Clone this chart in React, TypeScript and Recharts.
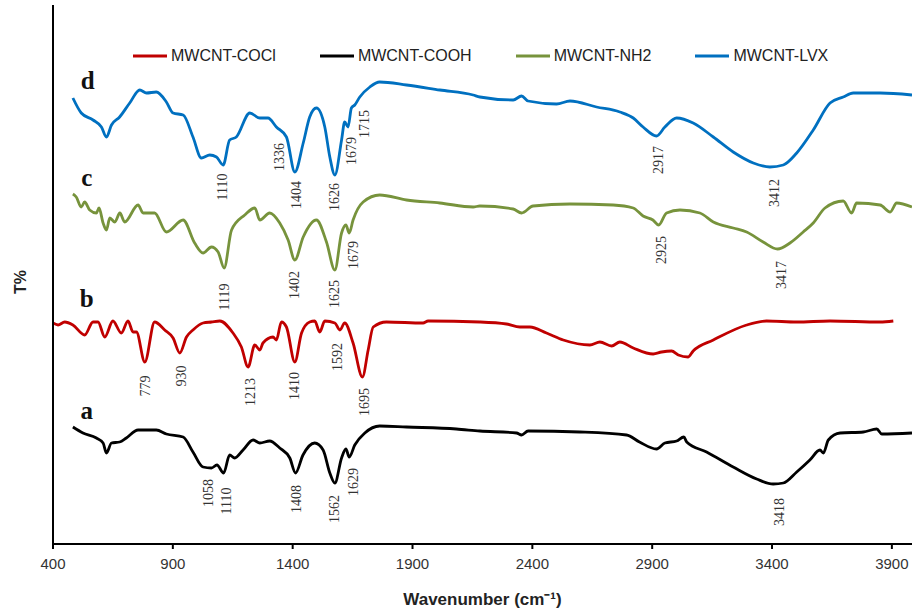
import { ComposedChart, Line, Scatter, XAxis, YAxis, Legend } from 'recharts';

// wavenumber (cm-1) / relative transmittance
const cooh: [number, number][] = [
  [483, 117], [525, 111], [581, 106], [609, 101], [623, 91], [644, 101], [678, 102], [706, 106],
  [755, 114], [831, 114], [873, 110], [943, 107], [984, 92], [1026, 77], [1061, 76], [1084, 79],
  [1112, 71], [1137, 89], [1158, 86], [1193, 94], [1235, 104], [1263, 101], [1304, 103], [1346, 96],
  [1388, 86], [1412, 71], [1443, 89], [1492, 101], [1527, 94], [1555, 71], [1576, 61], [1604, 86],
  [1622, 95], [1636, 87], [1659, 99], [1701, 111], [1763, 118], [1875, 117], [2083, 115], [2181, 113],
  [2334, 111], [2355, 109], [2382, 113], [2598, 112], [2793, 109], [2847, 102], [2918, 95], [2953, 101],
  [3002, 103], [3032, 107], [3044, 102], [3127, 92], [3238, 77], [3336, 65], [3405, 60], [3447, 61],
  [3503, 72], [3558, 84], [3600, 94], [3614, 91], [3635, 104], [3684, 111], [3781, 112], [3837, 115],
  [3858, 110], [3984, 111],
];

const cocl: [number, number][] = [
  [400, 221], [421, 219], [449, 222], [483, 219], [532, 209], [567, 222], [588, 222], [616, 207],
  [650, 223], [685, 211], [713, 223], [734, 212], [748, 212], [783, 182], [824, 222], [866, 214],
  [901, 206], [929, 191], [957, 207], [984, 214], [1026, 221], [1061, 222], [1096, 223], [1151, 211],
  [1186, 197], [1214, 177], [1242, 199], [1263, 194], [1276, 201], [1318, 207], [1332, 204], [1353, 222],
  [1374, 217], [1409, 182], [1437, 211], [1471, 222], [1492, 223], [1513, 212], [1534, 223], [1576, 221],
  [1597, 214], [1617, 221], [1652, 201], [1691, 167], [1715, 194], [1736, 217], [1791, 222], [1944, 221],
  [1965, 223], [2181, 222], [2292, 220], [2348, 217], [2390, 217], [2459, 211], [2529, 204], [2640, 199],
  [2682, 202], [2731, 198], [2765, 202], [2821, 196], [2904, 190], [2939, 192], [2981, 193], [3009, 189],
  [3050, 187], [3071, 193], [3155, 204], [3294, 219], [3377, 223], [3503, 222], [3642, 223], [3851, 222],
  [3906, 223],
];

const nh2: [number, number][] = [
  [483, 350], [497, 347], [518, 337], [532, 342], [553, 334], [581, 331], [592, 336], [609, 321],
  [623, 314], [637, 326], [658, 322], [679, 331], [699, 322], [755, 339], [776, 331], [824, 331],
  [873, 312], [943, 324], [991, 301], [1026, 291], [1061, 297], [1089, 292], [1114, 276], [1145, 314],
  [1200, 329], [1242, 336], [1263, 324], [1304, 331], [1346, 321], [1381, 304], [1409, 284], [1444, 307],
  [1499, 324], [1541, 302], [1576, 274], [1604, 311], [1622, 319], [1636, 311], [1652, 324], [1694, 342],
  [1763, 349], [1875, 344], [2014, 341], [2153, 337], [2181, 338], [2320, 335], [2355, 331], [2403, 338],
  [2557, 340], [2737, 339], [2821, 336], [2862, 328], [2903, 324], [2927, 319], [2960, 331], [3016, 334],
  [3099, 331], [3155, 322], [3238, 316], [3294, 312], [3363, 302], [3423, 295], [3475, 301], [3530, 312],
  [3572, 321], [3621, 336], [3697, 343], [3732, 331], [3753, 341], [3851, 339], [3893, 332], [3920, 341],
  [3984, 337],
];

const lvx: [number, number][] = [
  [483, 446], [518, 431], [567, 424], [602, 417], [623, 407], [644, 419], [678, 427], [720, 441],
  [762, 454], [790, 451], [831, 452], [873, 442], [901, 431], [943, 429], [984, 407], [1019, 386],
  [1054, 389], [1082, 387], [1110, 379], [1137, 404], [1165, 407], [1221, 431], [1263, 426], [1297, 426],
  [1332, 417], [1374, 407], [1409, 372], [1444, 401], [1471, 427], [1499, 436], [1534, 417], [1555, 387],
  [1576, 369], [1604, 404], [1617, 422], [1631, 417], [1645, 436], [1659, 439], [1680, 447], [1722, 457],
  [1763, 462], [1875, 459], [2014, 454], [2153, 449], [2181, 447], [2320, 444], [2355, 448], [2382, 443],
  [2501, 440], [2557, 443], [2668, 437], [2765, 432], [2821, 426], [2862, 417], [2918, 408], [2953, 417],
  [3002, 426], [3071, 421], [3155, 407], [3238, 392], [3322, 381], [3391, 377], [3447, 379], [3503, 391],
  [3572, 414], [3642, 441], [3697, 447], [3739, 451], [3851, 451], [3984, 449],
];

// peak annotations: [wavenumber, T at label centre, text]
const peakLabels: [number, number, string][] = [
  [1108, 357, '1110'], [1346, 387, '1336'], [1416, 349, '1404'], [1576, 347, '1626'],
  [1645, 393, '1679'], [1701, 420, '1715'], [2925, 384, '2917'], [3412, 351, '3412'],
  [1117, 247, '1119'], [1409, 259, '1402'], [1576, 250, '1625'], [1652, 289, '1679'],
  [2939, 294, '2925'], [3440, 269, '3417'],
  [787, 158, '779'], [936, 168, '930'], [1224, 152, '1213'], [1409, 158, '1410'],
  [1589, 187, '1592'], [1701, 142, '1695'],
  [1047, 51, '1058'], [1124, 43, '1110'], [1416, 45, '1408'], [1576, 35, '1562'],
  [1652, 62, '1629'], [3433, 32, '3418'],
];

const curveLetters: [number, number, string][] = [
  [545, 464, 'd'], [541, 367, 'c'], [541, 246, 'b'], [541, 134, 'a'],
];

const xTicks = [400, 900, 1400, 1900, 2400, 2900, 3400, 3900];

const toRows = (pts: [number, number][]) => pts.map(([wn, t]) => ({ wn, t }));
const toLabels = (pts: [number, number, string][]) => pts.map(([wn, t, text]) => ({ wn, t, text }));

const series = [
  { name: 'MWCNT-COCl', color: '#C00000', data: toRows(cocl) },
  { name: 'MWCNT-COOH', color: '#000000', data: toRows(cooh) },
  { name: 'MWCNT-NH2', color: '#77933C', data: toRows(nh2) },
  { name: 'MWCNT-LVX', color: '#0070C0', data: toRows(lvx) },
];
const legendOrder = series.map((s) => s.name);

const sans = '"Liberation Sans", Arial, sans-serif';
const serif = '"Liberation Serif", "Times New Roman", serif';

function PeakText(props: any) {
  const { cx, cy, payload } = props;
  return (
    <text x={cx} y={cy} transform={`rotate(-90 ${cx} ${cy})`} textAnchor="middle"
      dominantBaseline="central" fontFamily={serif} fontSize={14} fill="#333">
      {payload.text}
    </text>
  );
}

function LetterText(props: any) {
  const { cx, cy, payload } = props;
  return (
    <text x={cx} y={cy} textAnchor="middle" dominantBaseline="central"
      fontFamily={serif} fontWeight="bold" fontSize={25} fill="#111">
      {payload.text}
    </text>
  );
}

function YLabel() {
  return (
    <text x={20} y={282} transform="rotate(-90 20 282)" textAnchor="middle" dominantBaseline="central"
      fontFamily={sans} fontWeight="bold" fontSize={16} fill="#222">
      T%
    </text>
  );
}

function LegendContent(props: any) {
  const items = (props.payload || [])
    .filter((p: any) => legendOrder.includes(p.value))
    .sort((a: any, b: any) => legendOrder.indexOf(a.value) - legendOrder.indexOf(b.value));
  return (
    <div style={{ display: 'flex', alignItems: 'center', fontFamily: sans, fontSize: 16, color: '#222' }}>
      {items.map((it: any) => (
        <div key={it.value} style={{ display: 'flex', alignItems: 'center', marginRight: 44, whiteSpace: 'nowrap' }}>
          <svg width={34} height={6} style={{ marginRight: 4 }}>
            <line x1={0} y1={3} x2={34} y2={3} stroke={it.color} strokeWidth={3} />
          </svg>
          <span>{it.value}</span>
        </div>
      ))}
    </div>
  );
}

export default function App() {
  return (
    <div style={{ position: 'absolute', left: 0, top: 0, width: 912, height: 608, overflow: 'hidden', background: '#fff' }}>
      <ComposedChart width={912} height={608} margin={{ top: 5, right: 0, left: 0, bottom: 0 }}>
        <XAxis
          dataKey="wn"
          type="number"
          domain={[400, 3984]}
          ticks={xTicks}
          allowDataOverflow
          height={64}
          stroke="#000"
          strokeWidth={2}
          tickSize={5}
          tickMargin={9}
          tick={{ fill: '#333', fontSize: 15, fontFamily: sans }}
          label={{ value: 'Wavenumber (cm⁻¹)', position: 'insideBottom', offset: 3, fill: '#222', fontSize: 17, fontWeight: 'bold', fontFamily: sans }}
        />
        <YAxis
          dataKey="t"
          type="number"
          domain={[0, 539]}
          width={53}
          tick={false}
          tickLine={false}
          stroke="#000"
          strokeWidth={2}
          label={<YLabel />}
        />
        <Legend
          content={<LegendContent />}
          layout="horizontal"
          verticalAlign="middle"
          align="center"
          wrapperStyle={{ top: 47, left: 133, width: 760 }}
        />
        {series.map((s) => (
          <Line
            key={s.name}
            data={s.data}
            dataKey="t"
            name={s.name}
            type="monotone"
            stroke={s.color}
            strokeWidth={2.8}
            dot={false}
            activeDot={false}
            isAnimationActive={false}
          />
        ))}
        <Scatter data={toLabels(peakLabels)} dataKey="t" shape={<PeakText />} legendType="none" isAnimationActive={false} />
        <Scatter data={toLabels(curveLetters)} dataKey="t" shape={<LetterText />} legendType="none" isAnimationActive={false} />
      </ComposedChart>
    </div>
  );
}
